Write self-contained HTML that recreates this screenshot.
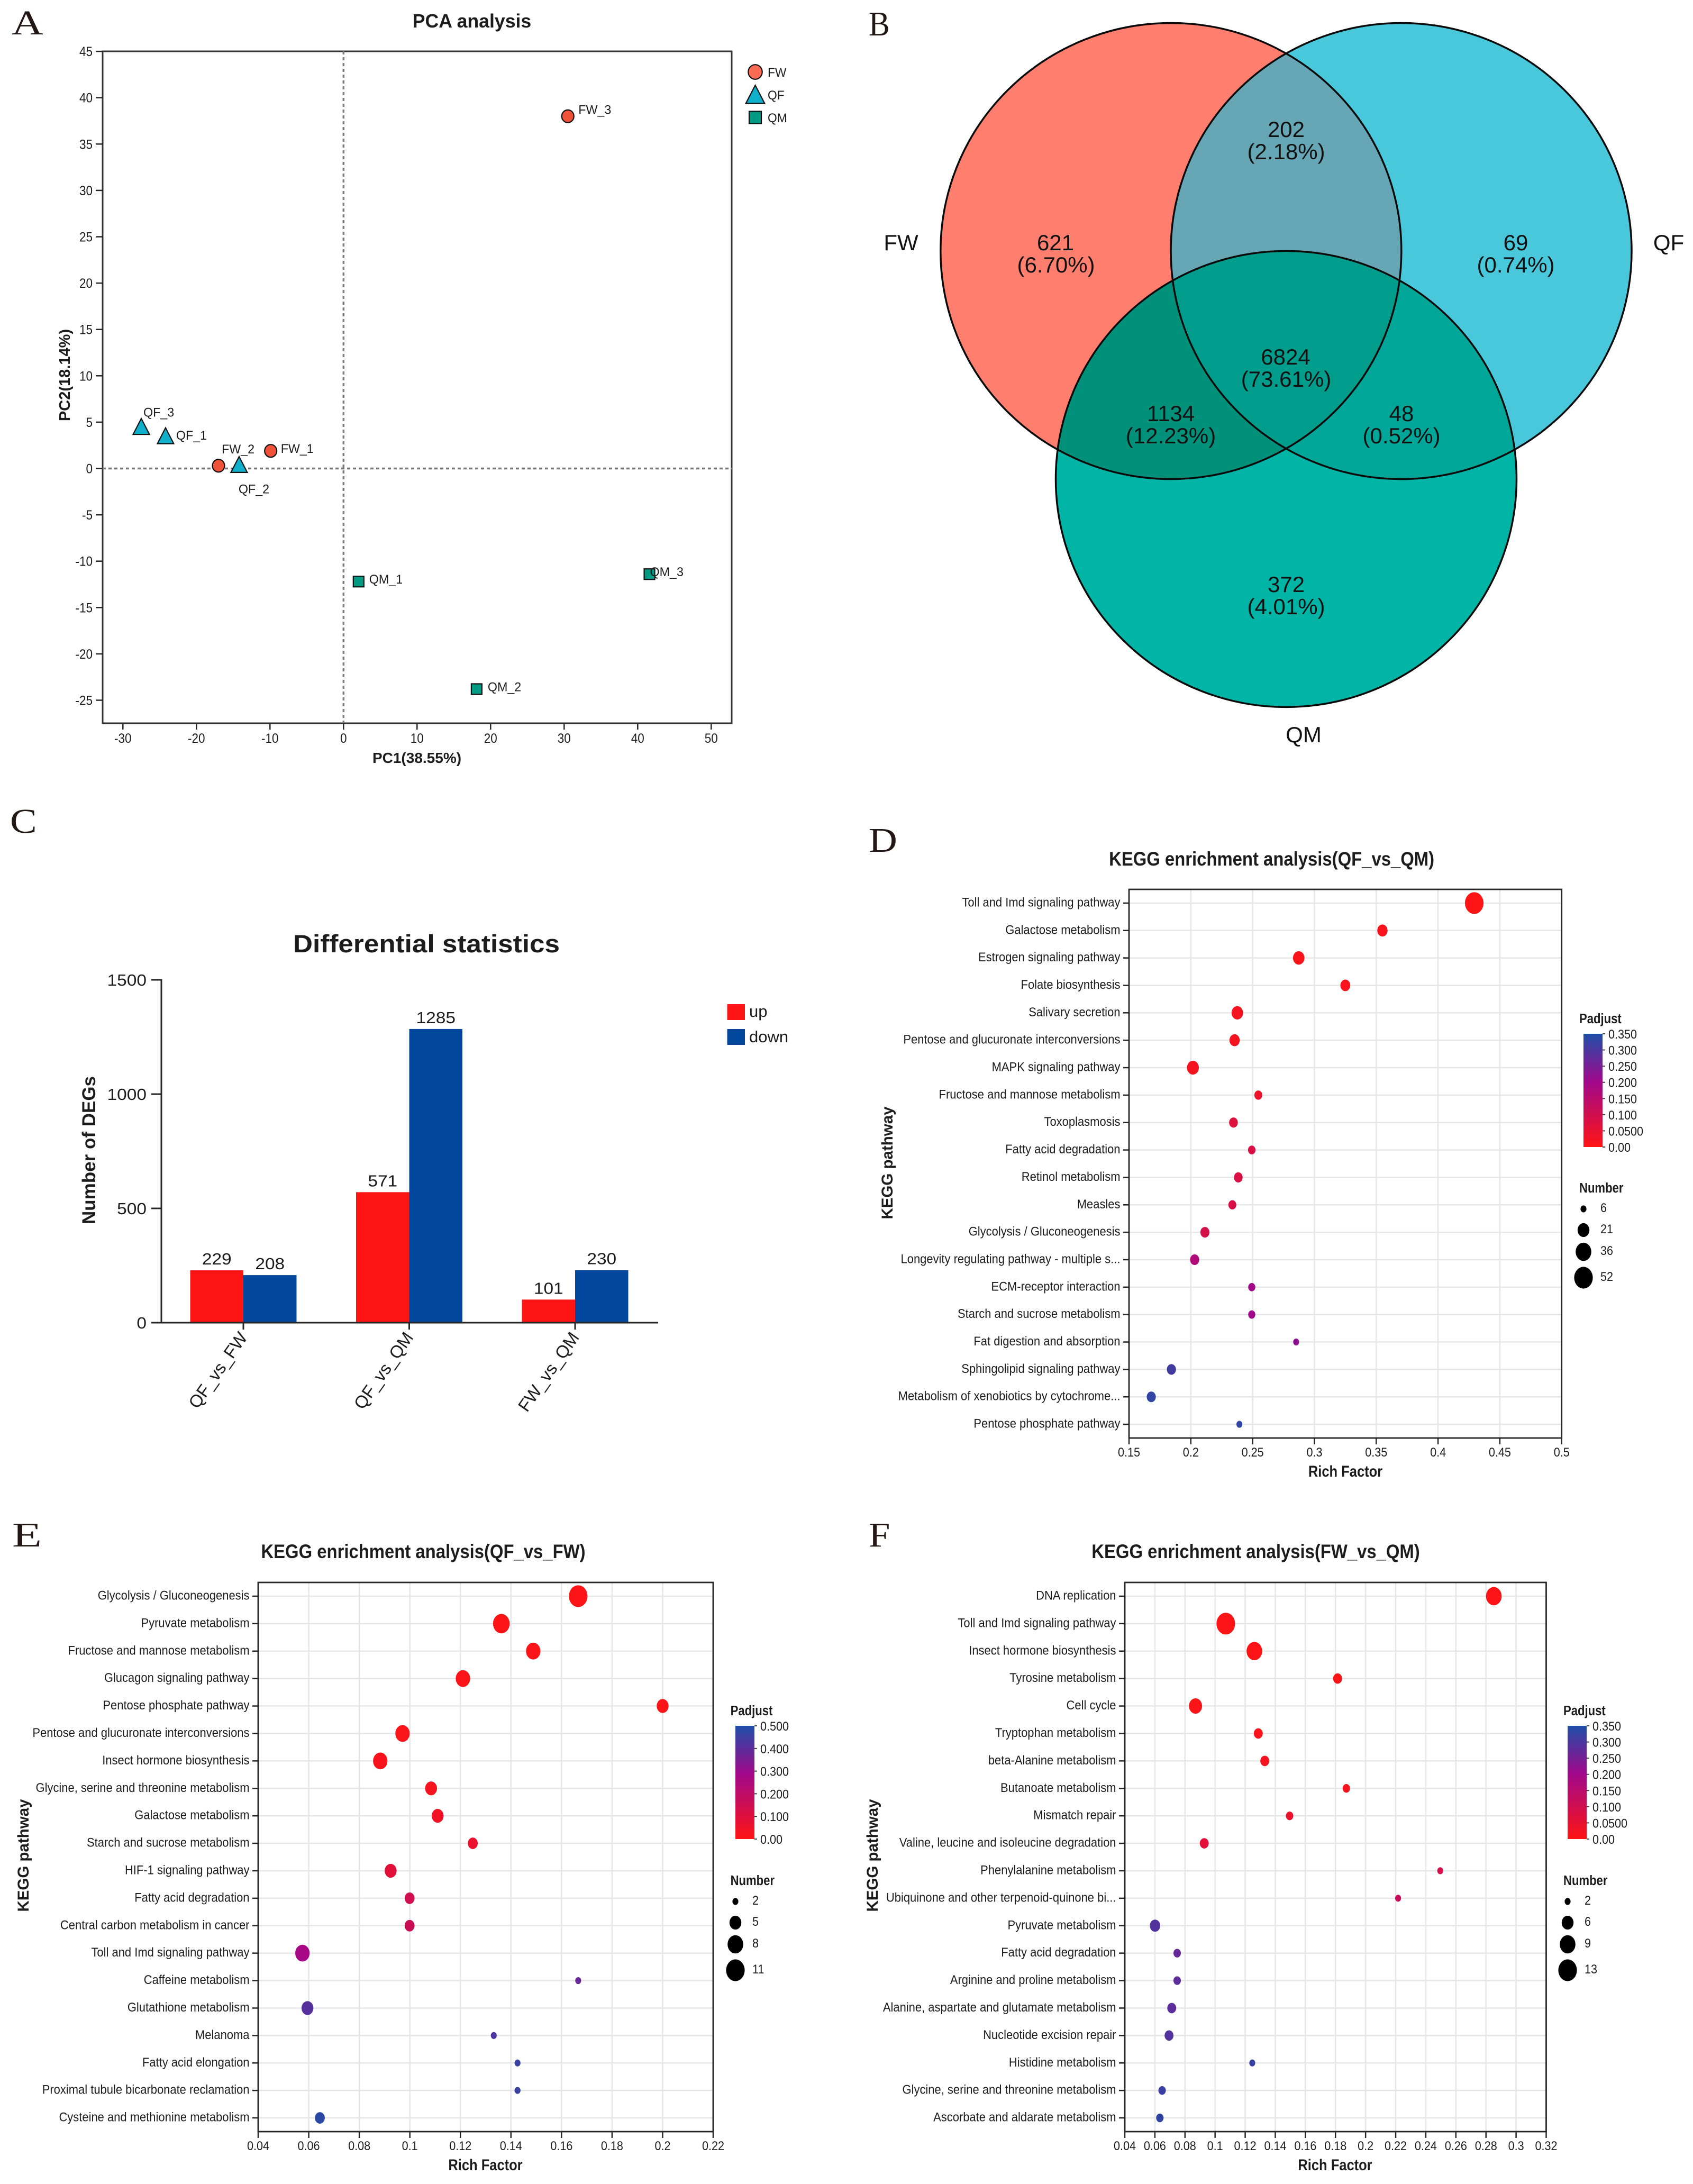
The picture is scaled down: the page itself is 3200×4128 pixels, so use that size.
<!DOCTYPE html>
<html lang="en">
<head>
<meta charset="utf-8">
<title>Transcriptome analysis figure</title>
<style>
html,body{margin:0;padding:0;background:#fff}
svg{display:block}
text{font-family:"Liberation Sans",Arial,sans-serif;fill:#1c1c1c}
.panel-letter{font-family:"Liberation Serif","Times New Roman",serif;font-size:66px;fill:#231815}
.venn-text{font-size:42px;text-anchor:middle;fill:#111}
</style>
</head>
<body>
<svg id="figure" width="3200" height="4128" viewBox="0 0 3200 4128">
<rect x="0" y="0" width="3200" height="4128" fill="#ffffff"/>
<defs>
  <clipPath id="clip-fw"><ellipse cx="2213.3" cy="474.5" rx="435.5" ry="431"/></clipPath>
  <clipPath id="clip-qf"><ellipse cx="2648.5" cy="474.5" rx="435.5" ry="431"/></clipPath>
  <clipPath id="clip-qm"><ellipse cx="2431" cy="905.4" rx="435.5" ry="431"/></clipPath>
</defs>

<text class="panel-letter" transform="translate(22,65) scale(1.25,1)">A</text>
<text class="panel-letter" transform="translate(1642,67) scale(.9,1)">B</text>
<text class="panel-letter" transform="translate(19,1574) scale(1.15,1)">C</text>
<text class="panel-letter" transform="translate(1642,1610) scale(1.13,1)">D</text>
<text class="panel-letter" transform="translate(23,2923) scale(1.39,1)">E</text>
<text class="panel-letter" transform="translate(1642,2923) scale(1.1,1)">F</text>

<g id="panel-a"></g>

<g id="panel-b">
  <ellipse cx="2213.3" cy="474.5" rx="435.5" ry="431" fill="#FF7E6E"/>
  <ellipse cx="2648.5" cy="474.5" rx="435.5" ry="431" fill="#49C7DB"/>
  <g clip-path="url(#clip-fw)">
    <ellipse cx="2648.5" cy="474.5" rx="435.5" ry="431" fill="#66A6B5"/>
  </g>
  <ellipse cx="2431" cy="905.4" rx="435.5" ry="431" fill="#00B5A5"/>
  <g clip-path="url(#clip-qm)">
    <ellipse cx="2213.3" cy="474.5" rx="435.5" ry="431" fill="#019079"/>
    <ellipse cx="2648.5" cy="474.5" rx="435.5" ry="431" fill="#00A798"/>
    <g clip-path="url(#clip-fw)">
      <ellipse cx="2648.5" cy="474.5" rx="435.5" ry="431" fill="#009C8C"/>
    </g>
  </g>
  <g fill="none" stroke="#0a0a0a" stroke-width="3.5">
    <ellipse cx="2213.3" cy="474.5" rx="435.5" ry="431"/>
    <ellipse cx="2648.5" cy="474.5" rx="435.5" ry="431"/>
    <ellipse cx="2431" cy="905.4" rx="435.5" ry="431"/>
  </g>
  <text class="venn-text" x="1995" y="473">621</text>
  <text class="venn-text" x="1996" y="515">(6.70%)</text>
  <text class="venn-text" x="2431" y="259">202</text>
  <text class="venn-text" x="2431" y="301">(2.18%)</text>
  <text class="venn-text" x="2865" y="473">69</text>
  <text class="venn-text" x="2865" y="515">(0.74%)</text>
  <text class="venn-text" x="2430" y="689">6824</text>
  <text class="venn-text" x="2431" y="731">(73.61%)</text>
  <text class="venn-text" x="2213" y="796">1134</text>
  <text class="venn-text" x="2213" y="838">(12.23%)</text>
  <text class="venn-text" x="2649" y="796">48</text>
  <text class="venn-text" x="2649" y="838">(0.52%)</text>
  <text class="venn-text" x="2431" y="1119">372</text>
  <text class="venn-text" x="2431" y="1161">(4.01%)</text>
  <text class="venn-text" x="1703" y="473">FW</text>
  <text class="venn-text" x="3154" y="473">QF</text>
  <text class="venn-text" x="2464" y="1403">QM</text>
</g>

<g id="panel-c"></g>
<g id="panel-d"></g>
<g id="panel-e"></g>
<g id="panel-f"></g>
</svg>

<script>
/* ---------- Panel A data ---------- */
const pcaSamples = ['FW_1','FW_2','FW_3','QF_1','QF_2','QF_3','QM_1','QM_2','QM_3'];
const pcaGroups = ['FW','FW','FW','QF','QF','QF','QM','QM','QM'];
const pcaPC1 = [-9.9,-17.0,30.5,-24.2,-14.2,-27.5,2.05,18.1,41.6];
const pcaPC2 = [1.9,0.3,38.0,3.5,0.4,4.5,-12.2,-23.8,-11.4];
const pcaXTicks = [-30,-20,-10,0,10,20,30,40,50];
const pcaYTicks = [45,40,35,30,25,20,15,10,5,0,-5,-10,-15,-20,-25];
const pcaLegend = ['FW','QF','QM'];

/* ---------- Panel C data ---------- */
const barCategories = ['QF_vs_FW','QF_vs_QM','FW_vs_QM'];
const barUp = [229,571,101];
const barDown = [208,1285,230];
const barYTicks = [0,500,1000,1500];

/* ---------- Panel D data ---------- */
const dCategories = ['Toll and Imd signaling pathway','Galactose metabolism','Estrogen signaling pathway','Folate biosynthesis','Salivary secretion','Pentose and glucuronate interconversions','MAPK signaling pathway','Fructose and mannose metabolism','Toxoplasmosis','Fatty acid degradation','Retinol metabolism','Measles','Glycolysis / Gluconeogenesis','Longevity regulating pathway - multiple s...','ECM-receptor interaction','Starch and sucrose metabolism','Fat digestion and absorption','Sphingolipid signaling pathway','Metabolism of xenobiotics by cytochrome...','Pentose phosphate pathway'];
const dRichFactor = [0.4293,0.355,0.2873,0.325,0.2376,0.2354,0.2017,0.2546,0.2345,0.2493,0.2384,0.2336,0.2114,0.2031,0.2493,0.2493,0.2852,0.1843,0.168,0.2393];
const dNumber = [52,17,20,16,20,17,21,11,13,10,13,11,14,14,9,9,6,14,14,6];
const dPadjust = [0.002,0.01,0.01,0.015,0.02,0.02,0.02,0.04,0.07,0.08,0.08,0.085,0.09,0.17,0.2,0.2,0.22,0.31,0.33,0.33];
const dXTicks = ['0.15','0.2','0.25','0.3','0.35','0.4','0.45','0.5'];
const dColorTicks = ['0.350','0.300','0.250','0.200','0.150','0.100','0.0500','0.00'];
const dSizeTicks = [6,21,36,52];

/* ---------- Panel E data ---------- */
const eCategories = ['Glycolysis / Gluconeogenesis','Pyruvate metabolism','Fructose and mannose metabolism','Glucagon signaling pathway','Pentose phosphate pathway','Pentose and glucuronate interconversions','Insect hormone biosynthesis','Glycine, serine and threonine metabolism','Galactose metabolism','Starch and sucrose metabolism','HIF-1 signaling pathway','Fatty acid degradation','Central carbon metabolism in cancer','Toll and Imd signaling pathway','Caffeine metabolism','Glutathione metabolism','Melanoma','Fatty acid elongation','Proximal tubule bicarbonate reclamation','Cysteine and methionine metabolism'];
const eRichFactor = [0.1666,0.1362,0.1488,0.121,0.2,0.0971,0.0883,0.1084,0.111,0.1249,0.0924,0.0999,0.0999,0.0575,0.1666,0.0595,0.1332,0.1426,0.1426,0.0644];
const eNumber = [11,9,7,7,5,7,7,5,5,4,5,4,4,7,2,5,2,2,2,4];
const ePadjust = [0.005,0.005,0.01,0.01,0.01,0.015,0.02,0.03,0.04,0.06,0.09,0.14,0.16,0.27,0.38,0.41,0.42,0.46,0.46,0.48];
const eXTicks = ['0.04','0.06','0.08','0.1','0.12','0.14','0.16','0.18','0.2','0.22'];
const eColorTicks = ['0.500','0.400','0.300','0.200','0.100','0.00'];
const eSizeTicks = [2,5,8,11];

/* ---------- Panel F data ---------- */
const fCategories = ['DNA replication','Toll and Imd signaling pathway','Insect hormone biosynthesis','Tyrosine metabolism','Cell cycle','Tryptophan metabolism','beta-Alanine metabolism','Butanoate metabolism','Mismatch repair','Valine, leucine and isoleucine degradation','Phenylalanine metabolism','Ubiquinone and other terpenoid-quinone bi...','Pyruvate metabolism','Fatty acid degradation','Arginine and proline metabolism','Alanine, aspartate and glutamate metabolism','Nucleotide excision repair','Histidine metabolism','Glycine, serine and threonine metabolism','Ascorbate and aldarate metabolism'];
const fRichFactor = [0.2852,0.1071,0.1261,0.1814,0.087,0.1287,0.133,0.1872,0.1495,0.0928,0.2496,0.2216,0.0601,0.0748,0.0748,0.0712,0.0694,0.1247,0.0648,0.0633];
const fNumber = [9,13,9,4,7,4,4,3,3,4,2,2,5,3,3,4,4,2,3,3];
const fPadjust = [0.003,0.003,0.003,0.004,0.004,0.01,0.02,0.02,0.04,0.06,0.09,0.12,0.29,0.27,0.28,0.28,0.29,0.32,0.32,0.33];
const fXTicks = ['0.04','0.06','0.08','0.1','0.12','0.14','0.16','0.18','0.2','0.22','0.24','0.26','0.28','0.3','0.32'];
const fColorTicks = ['0.350','0.300','0.250','0.200','0.150','0.100','0.0500','0.00'];
const fSizeTicks = [2,6,9,13];

/* ---------- Helpers ---------- */
const root = document.getElementById('figure');
const defs = root.querySelector('defs');
function make(parent, tag, attrs) {
  const el = document.createElementNS(root.namespaceURI, tag);
  for (const k in attrs) el.setAttribute(k, attrs[k]);
  parent.appendChild(el);
  return el;
}
function line(parent, x1, y1, x2, y2, stroke, width) {
  return make(parent, 'line', {x1: x1, y1: y1, x2: x2, y2: y2, stroke: stroke, 'stroke-width': width});
}
function label(parent, x, y, str, size, opts) {
  const o = opts || {};
  const sx = o.sx === undefined ? 1 : o.sx;
  const rot = o.rot === undefined ? 0 : o.rot;
  const el = make(parent, 'text', {
    transform: 'translate(' + x + ',' + y + ') rotate(' + rot + ') scale(' + sx + ',1)',
    'font-size': size,
    'font-weight': o.bold ? 'bold' : 'normal',
    'text-anchor': o.anchor || 'start'
  });
  el.textContent = str;
  return el;
}
const AXIS = '#262626';

/* ---------- Panel A: PCA scatter ---------- */
(function drawPca() {
  const g = document.getElementById('panel-a');
  const plot = {left: 194, right: 1383, top: 97, bottom: 1367};
  const sx = v => 649.3 + 13.9 * v;
  const sy = v => 885.5 - 17.52 * v;

  const title = label(g, 892, 52, 'PCA analysis', 36, {bold: true, anchor: 'middle', sx: 0.99});
  
  

  const frame = make(g, 'rect', {x: plot.left, y: plot.top, width: plot.right - plot.left, height: plot.bottom - plot.top, fill: 'none', stroke: '#333', 'stroke-width': 3});
  
  

  const zeroH = line(g, plot.left, sy(0), plot.right, sy(0), '#7c7c7c', 3.5);
  zeroH.setAttribute('stroke-dasharray', '6 5');
  
  
  const zeroV = line(g, sx(0), plot.top, sx(0), plot.bottom, '#7c7c7c', 3.5);
  zeroV.setAttribute('stroke-dasharray', '6 5');
  
  

  pcaXTicks.forEach(v => {
    const t = line(g, sx(v), plot.bottom, sx(v), plot.bottom + 12, AXIS, 2.5);
    
    
    const l = label(g, sx(v), plot.bottom + 37, String(v), 25, {anchor: 'middle', sx: 0.9});
    
    
  });
  pcaYTicks.forEach(v => {
    const t = line(g, plot.left - 13, sy(v), plot.left, sy(v), AXIS, 2.5);
    
    
    const l = label(g, 175, sy(v) + 9, String(v), 25, {anchor: 'end', sx: 0.9});
    
    
  });

  const xt = label(g, 788, 1442, 'PC1(38.55%)', 28, {bold: true, anchor: 'middle'});
  
  
  const yt = label(g, 132, 709, 'PC2(18.14%)', 29, {bold: true, anchor: 'middle', rot: -90});
  
  

  function marker(group, x, y, scale) {
    let m;
    if (group === 'FW') {
      m = make(g, 'ellipse', {cx: x, cy: y, rx: 11.5 * scale, ry: 12 * scale, fill: scale > 1 ? '#FB6A55' : '#F0523A', stroke: '#111', 'stroke-width': 2.2});
    } else if (group === 'QF') {
      const a = 15.5 * scale;
      m = make(g, 'polygon', {points: x + ',' + (y - a) + ' ' + (x + a) + ',' + (y + a * 0.93) + ' ' + (x - a) + ',' + (y + a * 0.93), fill: '#10AFCB', stroke: '#111', 'stroke-width': 2.2});
    } else {
      const a = 10 * scale;
      m = make(g, 'rect', {x: x - a, y: y - a, width: 2 * a, height: 2 * a, fill: '#009B82', stroke: '#111', 'stroke-width': 2.2});
    }
    return m;
  }
  function labelOffset(name) {
    switch (name) {
      case 'FW_1': return [19, 4];
      case 'FW_2': return [6, -23];
      case 'FW_3': return [20, -4];
      case 'QF_1': return [20, 7];
      case 'QF_2': return [-1, 54];
      case 'QF_3': return [4, -19];
      case 'QM_1': return [20, 4];
      case 'QM_2': return [21, 4];
      default: return [1, 4];
    }
  }
  pcaSamples.forEach((name, i) => {
    const x = sx(pcaPC1[i]);
    const y = sy(pcaPC2[i]);
    const m = marker(pcaGroups[i], x, y, 1);
    
    
    const off = labelOffset(name);
    const l = label(g, x + off[0], y + off[1], name, 24, {sx: 0.97});
    
    
  });
  pcaLegend.forEach((name, i) => {
    const y = 136 + i * 43;
    const m = marker(name, 1427.5, y, 1.15);
    
    
    const l = label(g, 1451, y + 9, name, 24, {sx: 0.95});
    
    
  });
})();

/* ---------- Panel C: bars ---------- */
(function drawBars() {
  const g = document.getElementById('panel-c');
  const zeroY = 2500;
  const topY = 1852;
  const maxTick = barYTicks[barYTicks.length - 1];
  const sy = v => zeroY - (zeroY - topY) * v / maxTick;
  const sx = i => 460 + 313.5 * i;
  const barW = 100.5;

  const title = label(g, 806, 1800, 'Differential statistics', 47, {bold: true, anchor: 'middle', sx: 1.09});
  
  
  const yt = label(g, 180, 2174, 'Number of DEGs', 35, {bold: true, anchor: 'middle', rot: -90});
  
  

  barCategories.forEach((name, i) => {
    const x = sx(i);
    const up = make(g, 'rect', {x: x - barW, y: sy(barUp[i]), width: barW, height: zeroY - sy(barUp[i]), fill: '#FF1414'});
    
    
    const down = make(g, 'rect', {x: x, y: sy(barDown[i]), width: barW, height: zeroY - sy(barDown[i]), fill: '#00479D'});
    
    
    const lu = label(g, x - barW / 2, sy(barUp[i]) - 11, String(barUp[i]), 31, {anchor: 'middle', sx: 1.08});
    
    
    const ld = label(g, x + barW / 2, sy(barDown[i]) - 11, String(barDown[i]), 31, {anchor: 'middle', sx: 1.08});
    
    
    const t = line(g, x, zeroY, x, zeroY + 13, AXIS, 3);
    
    
    const cl = label(g, x + 9, 2528, name, 33, {anchor: 'end', rot: -55});
    
    
  });

  const yAxis = line(g, 305, topY - 1.5, 305, zeroY + 1.5, AXIS, 3);
  
  
  const xAxis = line(g, 286, zeroY, 1244, zeroY, AXIS, 3);
  
  
  barYTicks.forEach(v => {
    const t = line(g, 286, sy(v), 305, sy(v), AXIS, 3);
    
    
    const l = label(g, 277, sy(v) + 11, String(v), 31, {anchor: 'end', sx: 1.08});
    
    
  });

  const s1 = make(g, 'rect', {x: 1374.5, y: 1898, width: 33.5, height: 30, fill: '#FF1414'});
  
  
  const t1 = label(g, 1416, 1922, 'up', 31);
  
  
  const s2 = make(g, 'rect', {x: 1374.5, y: 1945, width: 33.5, height: 30, fill: '#00479D'});
  
  
  const t2 = label(g, 1416, 1970, 'down', 31);
  
  
})();

/* ---------- Panels D/E/F: KEGG dot plots ---------- */
const RED = [255, 20, 20];
const PURPLE = [160, 8, 140];
const BLUE = [31, 79, 168];
const PURPLE_STOP = 0.58;
const rgb = c => 'rgb(' + c.map(Math.round).join(',') + ')';
function colorScale(t) {
  const u = Math.max(0, Math.min(1, t));
  const a = u < PURPLE_STOP ? RED : PURPLE;
  const b = u < PURPLE_STOP ? PURPLE : BLUE;
  const f = u < PURPLE_STOP ? u / PURPLE_STOP : (u - PURPLE_STOP) / (1 - PURPLE_STOP);
  return rgb(a.map((v, k) => v + (b[k] - v) * f));
}
function drawDotPlot(g, id, titleText, categories, rich, counts, padj, xTicks, colorTicks, sizeTicks, box) {
  const xMin = parseFloat(xTicks[0]);
  const xMax = parseFloat(xTicks[xTicks.length - 1]);
  const sx = v => box.left + (box.right - box.left) * (v - xMin) / (xMax - xMin);
  const band = (box.bottom - box.top) / categories.length;
  const sy = i => box.top + band * (i + 0.5);
  const pMax = parseFloat(colorTicks[0]);
  const STEP_D = [11, 22, 29, 34.5];
  function diameter(n) {
    if (n <= sizeTicks[0]) return STEP_D[0] * 1.02;
    for (let k = 1; k < sizeTicks.length; k++) {
      if (n <= sizeTicks[k]) {
        const f = (n - sizeTicks[k - 1]) / (sizeTicks[k] - sizeTicks[k - 1]);
        return (STEP_D[k - 1] + (STEP_D[k] - STEP_D[k - 1]) * f) * 1.02;
      }
    }
    return STEP_D[3] * 1.02;
  }

  const title = label(g, box.titleX, box.titleY, titleText, 37, {bold: true, anchor: 'middle', sx: 0.888});
  
  

  xTicks.forEach(tick => {
    const x = sx(parseFloat(tick));
    const gl = line(g, x, box.top, x, box.bottom, '#e6e6e6', 2.5);
    
    
  });
  categories.forEach((name, i) => {
    const y = sy(i);
    const gl = line(g, box.left, y, box.right, y, '#e6e6e6', 2.5);
    
    
    const t = line(g, box.left - 11, y, box.left, y, AXIS, 2.5);
    
    
    const l = label(g, box.left - 16.5, y + 6.5, name, 24, {anchor: 'end', sx: 0.915});
    
    
  });
  const frame = make(g, 'rect', {x: box.left, y: box.top, width: box.right - box.left, height: box.bottom - box.top, fill: 'none', stroke: AXIS, 'stroke-width': 2.8});
  
  
  xTicks.forEach(tick => {
    const x = sx(parseFloat(tick));
    const t = line(g, x, box.bottom, x, box.bottom + 12, AXIS, 2.5);
    
    
    const l = label(g, x, box.bottom + 35, tick, 24, {anchor: 'middle', sx: 0.9});
    
    
  });
  categories.forEach((name, i) => {
    const d = diameter(counts[i]);
    const dot = make(g, 'ellipse', {cx: sx(rich[i]), cy: sy(i), rx: d / 2, ry: d / 2 * 1.17, fill: colorScale(padj[i] / pMax)});
    
    
  });

  const xTitle = label(g, box.xTitleX, box.bottom + 73, 'Rich Factor', 30, {bold: true, anchor: 'middle', sx: 0.85});
  
  
  const yTitle = label(g, box.yTitleX, box.yTitleY, 'KEGG pathway', 29.5, {bold: true, anchor: 'middle', rot: -90});
  
  

  /* colour legend */
  const gradId = 'grad-' + id;
  const grad = make(defs, 'linearGradient', {id: gradId, x1: 0, y1: 1, x2: 0, y2: 0});
  make(grad, 'stop', {offset: 0, 'stop-color': rgb(RED)});
  make(grad, 'stop', {offset: PURPLE_STOP, 'stop-color': rgb(PURPLE)});
  make(grad, 'stop', {offset: 1, 'stop-color': rgb(BLUE)});
  const pt = label(g, box.legendX, box.barTop - 20, 'Padjust', 26, {bold: true, sx: 0.85});
  
  
  const bar = make(g, 'rect', {x: box.barX, y: box.barTop, width: 36, height: box.barBottom - box.barTop, fill: 'url(#' + gradId + ')'});
  
  
  colorTicks.forEach(tick => {
    const y = box.barBottom - (box.barBottom - box.barTop) * parseFloat(tick) / pMax;
    const t = line(g, box.barX + 36, y, box.barX + 41, y, '#444', 2);
    
    
    const l = label(g, box.barX + 47, y + 9, tick, 24, {sx: 0.9});
    
    
  });

  /* size legend */
  const nt = label(g, box.legendX, box.sizeTop - 31, 'Number', 26, {bold: true, sx: 0.85});
  
  
  const OFFSETS = [0, 40, 81, 130];
  sizeTicks.forEach((n, k) => {
    const y = box.sizeTop + OFFSETS[k];
    const d = diameter(n);
    const dot = make(g, 'ellipse', {cx: box.barX, cy: y, rx: d / 2, ry: d / 2 * 1.17, fill: '#000'});
    
    
    const l = label(g, box.barX + 32, y + 6, String(n), 24, {sx: 0.9});
    
    
  });
}

drawDotPlot(document.getElementById('panel-d'), 'd', 'KEGG enrichment analysis(QF_vs_QM)',
  dCategories, dRichFactor, dNumber, dPadjust, dXTicks, dColorTicks, dSizeTicks,
  {left: 2134, right: 2951.7, top: 1681, bottom: 2718, titleX: 2403.6, titleY: 1636, xTitleX: 2543, yTitleX: 1687, yTitleY: 2198,
   legendX: 2985, barX: 2993, barTop: 1954, barBottom: 2168, sizeTop: 2285});
drawDotPlot(document.getElementById('panel-e'), 'e', 'KEGG enrichment analysis(QF_vs_FW)',
  eCategories, eRichFactor, eNumber, ePadjust, eXTicks, eColorTicks, eSizeTicks,
  {left: 488, right: 1348, top: 2991, bottom: 4029, titleX: 800, titleY: 2945, xTitleX: 917.5, yTitleX: 54, yTitleY: 3507,
   legendX: 1380.6, barX: 1390, barTop: 3262, barBottom: 3476, sizeTop: 3594});
drawDotPlot(document.getElementById('panel-f'), 'f', 'KEGG enrichment analysis(FW_vs_QM)',
  fCategories, fRichFactor, fNumber, fPadjust, fXTicks, fColorTicks, fSizeTicks,
  {left: 2126, right: 2922.5, top: 2991, bottom: 4029, titleX: 2373.5, titleY: 2945, xTitleX: 2523.5, yTitleX: 1659, yTitleY: 3507,
   legendX: 2955, barX: 2963, barTop: 3262, barBottom: 3476, sizeTop: 3594});
</script>
</body>
</html>
